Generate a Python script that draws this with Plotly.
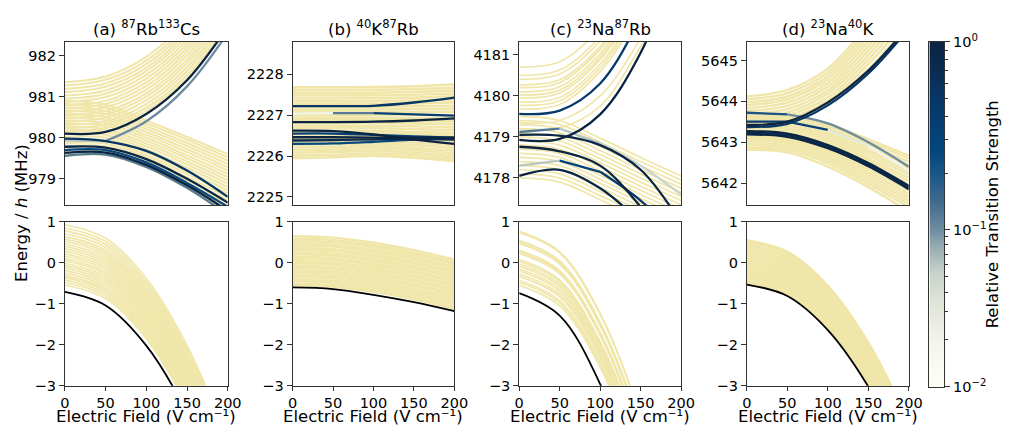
import numpy as np
import plotly.graph_objects as go
from plotly.colors import sample_colorscale

# Electric field grid (V/cm) at which every level energy is listed
E_FIELD = [0, 50, 100, 150, 200]

PANEL_TITLES = [
    "(a) <sup>87</sup>Rb<sup>133</sup>Cs",
    "(b) <sup>40</sup>K<sup>87</sup>Rb",
    "(c) <sup>23</sup>Na<sup>87</sup>Rb",
    "(d) <sup>23</sup>Na<sup>40</sup>K",
]
FIELD_LABEL = "Electric Field (V cm\u207b\u00b9)"
UPPER_RANGES = [[978.36, 982.34], [2224.8, 2228.8], [4177.34, 4181.32], [5641.46, 5645.46]]
UPPER_TICKS = [[979, 980, 981, 982], [2225, 2226, 2227, 2228],
               [4178, 4179, 4180, 4181], [5642, 5643, 5644, 5645]]
LOWER_RANGE = [-3, 1]
LOWER_TICKS = [-3, -2, -1, 0, 1]
LOWER_TICK_TEXT = ["\u22123", "\u22122", "\u22121", "0", "1"]
FIELD_TICKS = [0, 50, 100, 150, 200]

# ---------------- (a) RbCs ----------------
RBCS_RISING = [
    [981.35, 981.49, 981.97, 982.85, 984.15],
    [981.27, 981.41, 981.88, 982.75, 984.05],
    [981.19, 981.32, 981.79, 982.66, 983.95],
    [981.11, 981.24, 981.70, 982.57, 983.85],
    [981.03, 981.15, 981.62, 982.48, 983.76],
    [980.95, 981.07, 981.53, 982.38, 983.66],
    [980.87, 980.99, 981.44, 982.29, 983.56],
    [980.79, 980.90, 981.35, 982.19, 983.46],
    [980.71, 980.82, 981.26, 982.10, 983.36],
    [980.63, 980.74, 981.17, 982.00, 983.26],
    [980.55, 980.65, 981.08, 981.90, 983.16],
    [980.47, 980.57, 981.00, 981.81, 983.06],
    [980.39, 980.49, 980.91, 981.71, 982.96],
    [980.31, 980.40, 980.82, 981.62, 982.86],
    [980.23, 980.32, 980.73, 981.52, 982.76],
    [980.16, 980.24, 980.65, 981.44, 982.66],
]
RBCS_FALLING = [
    [980.90, 980.80, 980.42, 980.02, 979.60],
    [980.82, 980.73, 980.35, 979.95, 979.52],
    [980.74, 980.65, 980.28, 979.87, 979.44],
    [980.66, 980.58, 980.21, 979.80, 979.36],
    [980.58, 980.50, 980.14, 979.72, 979.28],
    [980.50, 980.43, 980.07, 979.65, 979.20],
    [980.42, 980.36, 980.00, 979.57, 979.12],
    [980.34, 980.29, 979.93, 979.50, 979.04],
    [980.26, 980.21, 979.86, 979.42, 978.96],
    [980.18, 980.14, 979.79, 979.35, 978.88],
    [980.10, 980.07, 979.72, 979.27, 978.80],
    [980.02, 980.00, 979.65, 979.19, 978.72],
    [979.94, 979.93, 979.58, 979.12, 978.64],
    [979.86, 979.86, 979.52, 979.04, 978.56],
    [979.78, 979.79, 979.46, 978.97, 978.48],
    [979.70, 979.72, 979.40, 978.90, 978.40],
    [979.62, 979.65, 979.34, 978.83, 978.30],
    [979.55, 979.58, 979.28, 978.77, 978.18],
]
RBCS_BRIGHT = [
    [980.10, 980.14, 980.58, 981.40, 982.70],
    [979.93, 979.92, 980.40, 981.25, 982.55],
    [979.98, 979.92, 979.68, 979.20, 978.56],
    [979.78, 979.76, 979.48, 979.00, 978.42],
    [979.70, 979.70, 979.40, 978.90, 978.32],
    [979.63, 979.64, 979.34, 978.84, 978.22],
    [979.56, 979.59, 979.29, 978.78, 978.12],
]
RBCS_BRIGHT_STRENGTH = [
    [1.0, 1.0, 1.0, 1.0],
    [0.06, 0.1, 0.1, 0.1],
    [0.5, 0.5, 0.5, 0.5],
    [0.9, 0.9, 0.9, 0.9],
    [0.25, 0.25, 0.25, 0.25],
    [1.0, 1.0, 1.0, 1.0],
    [0.12, 0.12, 0.12, 0.12],
]
RBCS_GROUND = [
    [0.93, 0.60, -0.38, -2.02, -4.31],
    [0.85, 0.52, -0.46, -2.10, -4.39],
    [0.78, 0.45, -0.53, -2.17, -4.46],
    [0.71, 0.38, -0.60, -2.24, -4.53],
    [0.64, 0.31, -0.67, -2.31, -4.60],
    [0.58, 0.25, -0.73, -2.37, -4.66],
    [0.52, 0.19, -0.79, -2.43, -4.72],
    [0.46, 0.13, -0.85, -2.49, -4.78],
    [0.40, 0.07, -0.91, -2.55, -4.84],
    [0.34, 0.01, -0.97, -2.61, -4.90],
    [0.28, -0.05, -1.03, -2.67, -4.96],
    [0.22, -0.11, -1.09, -2.73, -5.02],
    [0.16, -0.17, -1.15, -2.79, -5.08],
    [0.10, -0.23, -1.21, -2.85, -5.14],
    [0.05, -0.28, -1.26, -2.90, -5.19],
    [-0.01, -0.34, -1.32, -2.96, -5.25],
    [-0.07, -0.40, -1.38, -3.02, -5.31],
    [-0.13, -0.46, -1.44, -3.08, -5.37],
    [-0.19, -0.52, -1.50, -3.14, -5.43],
    [-0.25, -0.58, -1.56, -3.20, -5.49],
    [-0.31, -0.64, -1.62, -3.26, -5.55],
    [-0.36, -0.69, -1.67, -3.31, -5.60],
    [-0.42, -0.75, -1.73, -3.37, -5.66],
    [-0.48, -0.81, -1.79, -3.43, -5.72],
    [-0.54, -0.87, -1.85, -3.49, -5.78],
]
RBCS_GROUND_ORIGIN = [-0.71, -1.04, -2.02, -3.66, -5.95]

# ---------------- (b) KRb ----------------
KRB_EXCITED = [
    [2227.68, 2227.68, 2227.69, 2227.71, 2227.75],
    [2227.61, 2227.61, 2227.62, 2227.64, 2227.67],
    [2227.54, 2227.54, 2227.55, 2227.57, 2227.60],
    [2227.48, 2227.48, 2227.49, 2227.50, 2227.53],
    [2227.41, 2227.41, 2227.42, 2227.43, 2227.46],
    [2227.34, 2227.34, 2227.35, 2227.36, 2227.38],
    [2227.28, 2227.28, 2227.28, 2227.29, 2227.31],
    [2227.21, 2227.21, 2227.21, 2227.22, 2227.23],
    [2227.14, 2227.14, 2227.14, 2227.15, 2227.16],
    [2227.08, 2227.08, 2227.08, 2227.08, 2227.08],
    [2227.01, 2227.01, 2227.01, 2227.01, 2227.00],
    [2226.94, 2226.94, 2226.94, 2226.93, 2226.92],
    [2226.88, 2226.88, 2226.88, 2226.87, 2226.85],
    [2226.81, 2226.81, 2226.81, 2226.80, 2226.78],
    [2226.74, 2226.74, 2226.74, 2226.73, 2226.70],
    [2226.68, 2226.68, 2226.68, 2226.66, 2226.63],
    [2226.61, 2226.61, 2226.61, 2226.59, 2226.56],
    [2226.54, 2226.54, 2226.55, 2226.53, 2226.49],
    [2226.48, 2226.48, 2226.49, 2226.46, 2226.42],
    [2226.41, 2226.42, 2226.43, 2226.40, 2226.35],
    [2226.34, 2226.35, 2226.37, 2226.33, 2226.27],
    [2226.28, 2226.29, 2226.31, 2226.27, 2226.20],
    [2226.21, 2226.22, 2226.25, 2226.20, 2226.13],
    [2226.14, 2226.16, 2226.19, 2226.14, 2226.06],
    [2226.08, 2226.10, 2226.13, 2226.08, 2225.99],
    [2226.01, 2226.03, 2226.07, 2226.02, 2225.93],
    [2225.95, 2225.97, 2226.01, 2225.96, 2225.88],
]
KRB_BRIGHT = [
    [2227.22, 2227.22, 2227.23, 2227.31, 2227.43],
    [2227.04, 2227.05, 2227.05, 2227.02, 2226.99],
    [2226.83, 2226.83, 2226.84, 2226.87, 2226.92],
    [2226.62, 2226.61, 2226.53, 2226.40, 2226.30],
    [2226.55, 2226.55, 2226.52, 2226.48, 2226.45],
    [2226.46, 2226.46, 2226.45, 2226.45, 2226.45],
    [2226.38, 2226.39, 2226.41, 2226.42, 2226.40],
    [2226.30, 2226.31, 2226.35, 2226.40, 2226.43],
]
KRB_BRIGHT_STRENGTH = [
    [0.5, 0.5, 0.5, 0.5],
    [0.02, 0.12, 0.35, 0.4],
    [1.0, 1.0, 1.0, 1.0],
    [1.0, 1.0, 1.0, 1.0],
    [0.35, 0.35, 0.35, 0.35],
    [1.0, 1.0, 1.0, 1.0],
    [0.8, 0.8, 0.8, 0.8],
    [0.25, 0.25, 0.25, 0.25],
]
KRB_GROUND = [
    [0.65, 0.615, 0.49, 0.31, 0.075],
    [0.59, 0.555, 0.43, 0.25, 0.015],
    [0.54, 0.505, 0.38, 0.20, -0.035],
    [0.48, 0.445, 0.32, 0.14, -0.095],
    [0.43, 0.395, 0.27, 0.09, -0.145],
    [0.37, 0.335, 0.21, 0.03, -0.205],
    [0.32, 0.285, 0.16, -0.02, -0.255],
    [0.26, 0.225, 0.10, -0.08, -0.315],
    [0.21, 0.175, 0.05, -0.13, -0.365],
    [0.15, 0.115, -0.01, -0.19, -0.425],
    [0.10, 0.065, -0.06, -0.24, -0.475],
    [0.04, 0.005, -0.12, -0.30, -0.535],
    [-0.01, -0.045, -0.17, -0.35, -0.585],
    [-0.07, -0.105, -0.23, -0.41, -0.645],
    [-0.12, -0.155, -0.28, -0.46, -0.695],
    [-0.18, -0.215, -0.34, -0.52, -0.755],
    [-0.23, -0.265, -0.39, -0.57, -0.805],
    [-0.29, -0.325, -0.45, -0.63, -0.865],
    [-0.34, -0.375, -0.50, -0.68, -0.915],
    [-0.40, -0.435, -0.56, -0.74, -0.975],
    [-0.45, -0.485, -0.61, -0.79, -1.025],
    [-0.51, -0.545, -0.67, -0.85, -1.085],
    [-0.55, -0.585, -0.71, -0.89, -1.125],
]
KRB_GROUND_ORIGIN = [-0.60, -0.64, -0.78, -0.96, -1.18]

# ---------------- (c) NaRb ----------------
NARB_RISING = [
    [4180.70, 4180.83, 4181.65, 4183.00, 4184.70],
    [4180.50, 4180.63, 4181.44, 4182.80, 4184.50],
    [4180.40, 4180.53, 4181.34, 4182.70, 4184.40],
    [4180.27, 4180.39, 4181.20, 4182.60, 4184.30],
    [4180.20, 4180.32, 4181.13, 4182.55, 4184.20],
    [4180.10, 4180.22, 4181.03, 4182.45, 4184.10],
    [4180.02, 4180.14, 4180.95, 4182.37, 4184.00],
    [4179.95, 4180.07, 4180.88, 4182.30, 4183.95],
    [4179.85, 4179.96, 4180.77, 4182.20, 4183.85],
    [4179.77, 4179.88, 4180.68, 4182.12, 4183.77],
    [4179.68, 4179.79, 4180.59, 4182.03, 4183.68],
    [4179.35, 4179.40, 4180.00, 4181.40, 4183.20],
    [4179.20, 4179.22, 4179.75, 4181.20, 4183.00],
]
NARB_FALLING = [
    [4179.50, 4179.40, 4178.97, 4178.50, 4178.05],
    [4179.40, 4179.30, 4178.87, 4178.40, 4177.95],
    [4179.30, 4179.20, 4178.77, 4178.30, 4177.85],
    [4179.20, 4179.10, 4178.67, 4178.20, 4177.75],
    [4179.10, 4179.00, 4178.57, 4178.10, 4177.65],
    [4179.00, 4178.90, 4178.47, 4178.00, 4177.55],
    [4178.90, 4178.80, 4178.37, 4177.90, 4177.45],
    [4178.80, 4178.70, 4178.27, 4177.80, 4177.35],
    [4178.70, 4178.60, 4178.17, 4177.70, 4177.25],
    [4178.60, 4178.50, 4178.07, 4177.60, 4177.15],
    [4178.50, 4178.40, 4177.97, 4177.50, 4177.05],
    [4178.40, 4178.30, 4177.87, 4177.40, 4176.95],
    [4178.30, 4178.20, 4177.77, 4177.30, 4176.85],
    [4178.20, 4178.10, 4177.67, 4177.20, 4176.75],
    [4178.10, 4178.00, 4177.57, 4177.10, 4176.65],
    [4178.00, 4177.90, 4177.47, 4177.00, 4176.55],
]
NARB_BRIGHT = [
    [4179.56, 4179.64, 4180.30, 4181.90, 4184.00],
    [4178.93, 4178.95, 4179.55, 4181.05, 4183.50],
    [4179.05, 4179.03, 4178.80, 4178.20, 4176.90],
    [4178.76, 4178.65, 4178.30, 4177.30, 4176.00],
    [4178.30, 4178.42, 4178.15, 4177.45, 4176.50],
    [4178.05, 4178.20, 4177.75, 4176.90, 4175.70],
    [4179.12, 4179.20, 4178.85, 4178.30, 4177.60],
]
NARB_BRIGHT_STRENGTH = [
    [0.45, 0.45, 0.45, 0.45],
    [1.0, 1.0, 1.0, 1.0],
    [0.9, 0.9, 0.9, 0.9],
    [1.0, 1.0, 1.0, 1.0],
    [0.06, 0.3, 0.45, 0.45],
    [1.0, 1.0, 1.0, 1.0],
    [0.12, 0.06, 0.05, 0.05],
]
NARB_GROUND = [
    [0.77, 0.27, -1.23, -3.73, -7.23],
    [0.74, 0.24, -1.26, -3.76, -7.26],
    [0.55, 0.05, -1.45, -3.95, -7.45],
    [0.51, 0.01, -1.49, -3.99, -7.49],
    [0.47, -0.03, -1.53, -4.03, -7.53],
    [0.31, -0.19, -1.69, -4.19, -7.69],
    [0.27, -0.23, -1.73, -4.23, -7.73],
    [0.23, -0.27, -1.77, -4.27, -7.77],
    [0.08, -0.42, -1.92, -4.42, -7.92],
    [0.04, -0.46, -1.96, -4.46, -7.96],
    [-0.02, -0.52, -2.02, -4.52, -8.02],
    [-0.08, -0.58, -2.08, -4.58, -8.08],
    [-0.15, -0.65, -2.15, -4.65, -8.15],
    [-0.20, -0.70, -2.20, -4.70, -8.20],
    [-0.27, -0.77, -2.27, -4.77, -8.27],
    [-0.33, -0.83, -2.33, -4.83, -8.33],
    [-0.43, -0.93, -2.43, -4.93, -8.43],
    [-0.48, -0.98, -2.48, -4.98, -8.48],
    [-0.55, -1.05, -2.55, -5.05, -8.55],
]
NARB_GROUND_ORIGIN = [-0.74, -1.29, -2.96, -5.69, -9.50]

# ---------------- (d) NaK ----------------
NAK_RISING = [
    [5644.12, 5644.28, 5644.80, 5645.90, 5647.30],
    [5644.05, 5644.20, 5644.71, 5645.79, 5647.16],
    [5643.98, 5644.12, 5644.62, 5645.68, 5647.02],
    [5643.91, 5644.05, 5644.54, 5645.57, 5646.88],
    [5643.84, 5643.97, 5644.45, 5645.46, 5646.74],
    [5643.77, 5643.89, 5644.36, 5645.35, 5646.60],
    [5643.70, 5643.81, 5644.27, 5645.24, 5646.46],
    [5643.63, 5643.73, 5644.19, 5645.13, 5646.32],
    [5643.56, 5643.66, 5644.10, 5645.02, 5646.18],
    [5643.49, 5643.58, 5644.02, 5644.91, 5646.04],
    [5643.44, 5643.52, 5643.98, 5644.79, 5645.90],
]
NAK_FALLING = [
    [5643.72, 5643.68, 5643.45, 5643.07, 5642.67],
    [5643.67, 5643.63, 5643.39, 5643.01, 5642.60],
    [5643.61, 5643.57, 5643.33, 5642.94, 5642.52],
    [5643.56, 5643.52, 5643.27, 5642.87, 5642.44],
    [5643.51, 5643.46, 5643.21, 5642.80, 5642.36],
    [5643.45, 5643.40, 5643.15, 5642.74, 5642.28],
    [5643.40, 5643.35, 5643.09, 5642.67, 5642.21],
    [5643.35, 5643.30, 5643.03, 5642.60, 5642.13],
    [5643.29, 5643.24, 5642.97, 5642.54, 5642.05],
    [5643.24, 5643.19, 5642.91, 5642.47, 5641.97],
    [5643.19, 5643.14, 5642.85, 5642.40, 5641.89],
    [5643.13, 5643.08, 5642.79, 5642.33, 5641.81],
    [5643.08, 5643.03, 5642.73, 5642.26, 5641.73],
    [5643.03, 5642.98, 5642.67, 5642.19, 5641.65],
    [5642.97, 5642.92, 5642.61, 5642.12, 5641.57],
    [5642.92, 5642.87, 5642.55, 5642.05, 5641.49],
    [5642.86, 5642.81, 5642.48, 5641.98, 5641.41],
    [5642.81, 5642.75, 5642.40, 5641.90, 5641.30],
]
NAK_BRIGHT = [
    [5643.42, 5643.50, 5643.97, 5644.75, 5645.85],
    [5643.37, 5643.45, 5643.90, 5644.68, 5645.78],
    [5643.72, 5643.68, 5643.46, 5643.00, 5642.40],
    [5643.50, 5643.50, 5643.30, 5642.90, 5642.30],
    [5643.27, 5643.21, 5642.93, 5642.49, 5641.93],
    [5643.23, 5643.17, 5642.89, 5642.45, 5641.89],
    [5643.19, 5643.13, 5642.85, 5642.41, 5641.85],
]
NAK_BRIGHT_STRENGTH = [
    [1.0, 1.0, 1.0, 1.0],
    [0.5, 0.5, 0.5, 0.5],
    [0.2, 0.1, 0.1, 0.1],
    [0.4, 0.3, 0.03, 0.02],
    [1.0, 1.0, 1.0, 1.0],
    [0.6, 0.6, 0.6, 0.6],
    [1.0, 1.0, 1.0, 1.0],
]
NAK_GROUND = [
    [0.55, 0.27, -0.56, -1.95, -3.89],
    [0.50, 0.22, -0.61, -2.00, -3.94],
    [0.44, 0.16, -0.67, -2.06, -4.00],
    [0.39, 0.11, -0.72, -2.11, -4.05],
    [0.33, 0.05, -0.78, -2.17, -4.11],
    [0.28, 0.00, -0.83, -2.22, -4.16],
    [0.22, -0.06, -0.89, -2.28, -4.22],
    [0.17, -0.11, -0.94, -2.33, -4.27],
    [0.11, -0.17, -1.00, -2.39, -4.33],
    [0.06, -0.22, -1.05, -2.44, -4.38],
    [0.00, -0.28, -1.11, -2.50, -4.44],
    [-0.05, -0.33, -1.16, -2.55, -4.49],
    [-0.11, -0.39, -1.22, -2.61, -4.55],
    [-0.16, -0.44, -1.27, -2.66, -4.60],
    [-0.22, -0.50, -1.33, -2.72, -4.66],
    [-0.27, -0.55, -1.38, -2.77, -4.71],
    [-0.33, -0.61, -1.44, -2.83, -4.77],
    [-0.38, -0.66, -1.49, -2.88, -4.82],
    [-0.44, -0.72, -1.55, -2.94, -4.88],
    [-0.49, -0.77, -1.60, -2.99, -4.93],
]
NAK_GROUND_ORIGIN = [-0.53, -0.81, -1.64, -3.02, -4.95]

# ---------------- styling ----------------
FONT = "DejaVu Sans"
PALE = "#f0e6a9"
FRAME = "#333333"
W, H = 1016, 435

# pale-line width per panel (dense bands get wider strokes)
UPPER_PALE_WIDTH = [2.1, 2.6, 1.7, 2.4]
LOWER_PALE_WIDTH = [1.7, 2.4, 1.6, 2.5]

# transition-strength colour map, indexed by position along the colour bar
STRENGTH_SCALE = [
    [0.0, "#fefef6"], [0.13, "#f3f4ea"], [0.23, "#e2e7da"], [0.33, "#c8d2ca"],
    [0.41, "#93a9b0"], [0.455, "#6d8ca0"], [0.535, "#3f6b8d"], [0.62, "#1a5587"],
    [0.68, "#03467f"], [0.8, "#073a6c"], [0.9, "#0a2e55"], [1.0, "#0b2442"],
]
DECADE_SPLIT = 0.455  # bar position of 10^-1


def bar_position(s):
    lg = np.log10(s)
    if lg <= -1:
        return DECADE_SPLIT * (lg + 2)
    return DECADE_SPLIT + (1 - DECADE_SPLIT) * (lg + 1)


def strength_colour(s):
    return sample_colorscale(STRENGTH_SCALE, [min(max(bar_position(s), 0), 1)])[0]


# pixel boxes of each panel (left, right, top, bottom)
COL_X = [(61, 227), (293, 458), (524, 689), (756, 921)]
TOP_Y = (33, 203.5)
BOT_Y = (221, 392)
BAR_X = (942, 957)
BAR_Y = (33, 393)


def xdom(px):
    return [px[0] / W, px[1] / W]


def ydom(py):
    return [1 - py[1] / H, 1 - py[0] / H]


fig = go.Figure()


def ax_names(k):
    return ("x" if k == 1 else f"x{k}"), ("y" if k == 1 else f"y{k}")


def add_plain(rows, k, colour, width):
    xa, ya = ax_names(k)
    for r in rows:
        fig.add_trace(go.Scatter(x=E_FIELD, y=r, mode="lines", xaxis=xa, yaxis=ya,
                                 line=dict(color=colour, width=width, shape="spline"),
                                 hoverinfo="skip", showlegend=False))


def add_bright(rows, strengths, k):
    xa, ya = ax_names(k)
    order = sorted(range(len(rows)), key=lambda i: max(strengths[i]))
    for idx in order:
        vals, st = rows[idx], strengths[idx]
        i = 0
        while i < len(st):
            j = i
            while j + 1 < len(st) and st[j + 1] == st[i]:
                j += 1
            fig.add_trace(go.Scatter(x=E_FIELD[i:j + 2], y=vals[i:j + 2], mode="lines",
                                     xaxis=xa, yaxis=ya,
                                     line=dict(color=strength_colour(st[i]), width=2.3,
                                               shape="spline"),
                                     hoverinfo="skip", showlegend=False))
            i = j + 1


upper_sets = [
    (RBCS_RISING + RBCS_FALLING, RBCS_BRIGHT, RBCS_BRIGHT_STRENGTH),
    (KRB_EXCITED, KRB_BRIGHT, KRB_BRIGHT_STRENGTH),
    (NARB_RISING + NARB_FALLING, NARB_BRIGHT, NARB_BRIGHT_STRENGTH),
    (NAK_RISING + NAK_FALLING, NAK_BRIGHT, NAK_BRIGHT_STRENGTH),
]
lower_sets = [
    (RBCS_GROUND, RBCS_GROUND_ORIGIN),
    (KRB_GROUND, KRB_GROUND_ORIGIN),
    (NARB_GROUND, NARB_GROUND_ORIGIN),
    (NAK_GROUND, NAK_GROUND_ORIGIN),
]

for c in range(4):
    pale, bright, strength = upper_sets[c]
    add_plain(pale, c + 1, PALE, UPPER_PALE_WIDTH[c])
    add_bright(bright, strength, c + 1)
    ground, origin = lower_sets[c]
    add_plain(ground, c + 5, PALE, LOWER_PALE_WIDTH[c])
    add_plain([origin], c + 5, "#000000", 1.8)

# colour bar drawn as a one-column heatmap on its own axes
bar_levels = np.linspace(0, 1, 256)
fig.add_trace(go.Heatmap(z=[[v] for v in bar_levels], x=[0], y=bar_levels,
                         colorscale=STRENGTH_SCALE, zmin=0, zmax=1, showscale=False,
                         xaxis="x9", yaxis="y9", hoverinfo="skip"))

tick_font = dict(family=FONT, size=14.5, color="#000000")
layout = dict(
    width=W, height=H, margin=dict(l=0, r=0, t=0, b=0),
    paper_bgcolor="white", plot_bgcolor="white",
    font=dict(family=FONT, color="#000000"), showlegend=False,
)

for c in range(4):
    for row in range(2):
        k = c + 1 + 4 * row
        xkey = "xaxis" if k == 1 else f"xaxis{k}"
        ykey = "yaxis" if k == 1 else f"yaxis{k}"
        xa, ya = ax_names(k)
        xaxis = dict(domain=xdom(COL_X[c]), range=[0, 200], anchor=ya, showgrid=False,
                     zeroline=False, showline=True, mirror=True, linecolor=FRAME,
                     linewidth=1, tickfont=tick_font)
        if row == 0:
            yaxis = dict(domain=ydom(TOP_Y), range=UPPER_RANGES[c], tickvals=UPPER_TICKS[c],
                         ticktext=[str(t) for t in UPPER_TICKS[c]])
            xaxis.update(showticklabels=False, ticks="")
        else:
            yaxis = dict(domain=ydom(BOT_Y), range=LOWER_RANGE, tickvals=LOWER_TICKS,
                         ticktext=LOWER_TICK_TEXT)
            xaxis.update(tickvals=FIELD_TICKS, ticks="outside", ticklen=4,
                         tickcolor=FRAME)
        yaxis.update(anchor=xa, showgrid=False, zeroline=False, showline=True, mirror=True,
                     linecolor=FRAME, linewidth=1, ticks="outside", ticklen=5,
                     tickcolor=FRAME, tickfont=tick_font)
        layout[xkey] = xaxis
        layout[ykey] = yaxis

minor_vals = [bar_position(m * 10.0 ** e) for e in (-2, -1) for m in range(2, 10)]
layout["xaxis9"] = dict(domain=xdom(BAR_X), range=[-0.5, 0.5], anchor="y9", visible=True,
                        showticklabels=False, ticks="", showgrid=False, zeroline=False,
                        showline=True, mirror=True, linecolor=FRAME, linewidth=1)
layout["yaxis9"] = dict(domain=ydom(BAR_Y), range=[0, 1], anchor="x9", side="right",
                        tickvals=[0, DECADE_SPLIT, 1],
                        ticktext=["10<sup>\u22122</sup>", "10<sup>\u22121</sup>", "10<sup>0</sup>"],
                        ticks="outside", ticklen=5, tickcolor=FRAME, tickfont=tick_font,
                        minor=dict(tickmode="array", tickvals=minor_vals, ticks="outside",
                                   ticklen=3, tickcolor=FRAME),
                        showgrid=False, zeroline=False, showline=True, mirror=True,
                        linecolor=FRAME, linewidth=1)

annotations = []
label_font = dict(family=FONT, size=16.5, color="#000000")
for c in range(4):
    cx = (COL_X[c][0] + COL_X[c][1]) / 2 / W
    annotations.append(dict(text=PANEL_TITLES[c], x=cx, y=1 - 19 / H, xref="paper",
                            yref="paper", showarrow=False, xanchor="center",
                            yanchor="middle", font=label_font))
    annotations.append(dict(text=FIELD_LABEL, x=cx, y=1 - 435 / H, xref="paper",
                            yref="paper", showarrow=False, xanchor="center",
                            yanchor="bottom", borderpad=0, font=label_font))
annotations.append(dict(text="Energy / <i>h</i> (MHz)", x=17 / W, y=1 - 212 / H,
                        xref="paper", yref="paper", showarrow=False, textangle=-90,
                        xanchor="center", yanchor="middle", font=label_font))
annotations.append(dict(text="Relative Transition Strength", x=1006 / W, y=1 - 213 / H,
                        xref="paper", yref="paper", showarrow=False, textangle=-90,
                        xanchor="center", yanchor="middle", font=label_font))
layout["annotations"] = annotations

fig.update_layout(**layout)
fig.write_html("out.html")
